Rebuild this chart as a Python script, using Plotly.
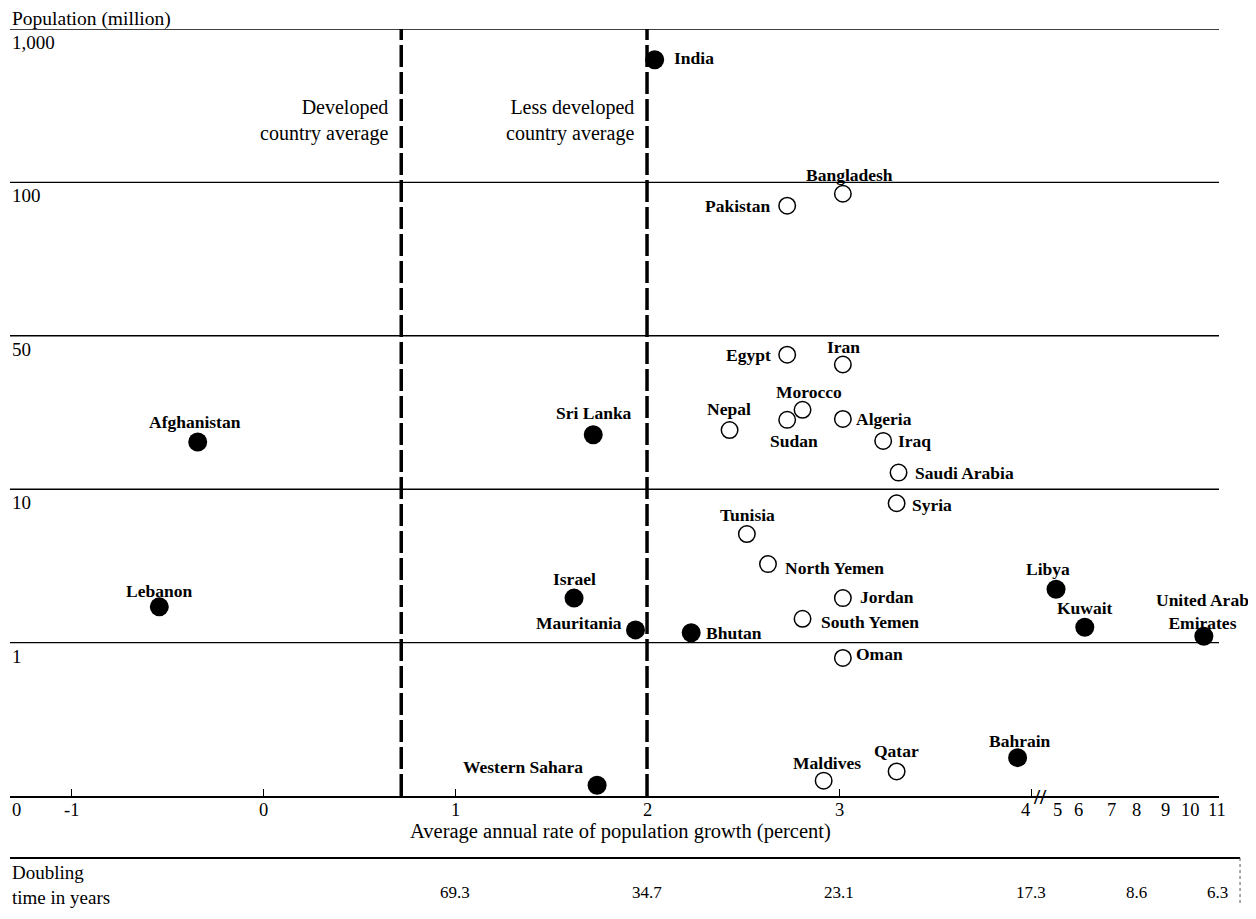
import numpy as np
import plotly.graph_objects as go

# ---------------- data ----------------
countries = ["India", "Bangladesh", "Pakistan", "Egypt", "Iran", "Morocco", "Nepal",
             "Sudan", "Algeria", "Iraq", "Saudi Arabia", "Syria", "Sri Lanka",
             "Afghanistan", "Tunisia", "North Yemen", "Libya", "Jordan", "South Yemen",
             "Israel", "Lebanon", "Mauritania", "Bhutan", "Kuwait", "United Arab Emirates",
             "Oman", "Bahrain", "Qatar", "Maldives", "Western Sahara"]
growth_rate = [2.04, 3.02, 2.73, 2.73, 3.02, 2.81, 2.43,
               2.73, 3.02, 3.23, 3.31, 3.30, 1.72,
               -0.34, 2.52, 2.63, 4.93, 3.02, 2.81,
               1.62, -0.54, 1.94, 2.23, 6.2, 10.5,
               3.02, 3.93, 3.30, 2.92, 1.74]
population = [630, 95, 90, 41, 37, 23, 18.6,
              20.7, 20.9, 16.6, 11.9, 8.1, 17.7,
              16.4, 5.1, 3.25, 2.23, 1.95, 1.43,
              1.95, 1.71, 1.21, 1.16, 1.26, 1.10,
              0.90, 0.25, 0.16, 0.10, 0.07]
filled = [True, False, False, False, False, False, False,
          False, False, False, False, False, True,
          True, False, False, True, False, False,
          True, True, True, True, True, True,
          False, True, False, False, True]

developed_avg = 0.72
less_developed_avg = 2.0

pop_ticks = [0, 1, 10, 50, 100, 1000]
pop_tick_text = ["0", "1", "10", "50", "100", "1,000"]
growth_ticks = [-1, 0, 1, 2, 3, 4, 5, 6, 7, 8, 9, 10, 11]
growth_tick_text = ["-1", "0", "1", "2", "3", "4", "5", "6", "7", "8", "9", "10", "11"]
# compressed scale beyond the axis break at 4 percent
break_rates = [4, 5, 6, 7, 8, 9, 10, 11]
break_units = [4.0, 4.14, 4.245, 4.42, 4.55, 4.70, 4.83, 4.97]
doubling_rates = [1, 2, 3, 4, 8, 11]
doubling_years = ["69.3", "34.7", "23.1", "17.3", "8.6", "6.3"]


# ---------------- scales ----------------
def ypos(values):
    out = []
    for v in np.atleast_1d(np.asarray(values, float)):
        if v <= 1:
            out.append(v)
            continue
        for k in range(1, len(pop_ticks) - 1):
            lo, hi = pop_ticks[k], pop_ticks[k + 1]
            if v <= hi or k == len(pop_ticks) - 2:
                out.append(k + np.log(v / lo) / np.log(hi / lo))
                break
    return np.array(out)


def xpos(values):
    r = np.atleast_1d(np.asarray(values, float))
    return np.where(r <= 4, r, np.interp(r, break_rates, break_units))


FONT = "Liberation Serif, Times New Roman, serif"

# label placement: (anchor, dx px, dy px; dy positive = down)
label_place = {
    "India": ("left", 17, -2), "Bangladesh": ("center", 7, -19), "Pakistan": ("right", -15, 0),
    "Egypt": ("right", -14, 0), "Iran": ("center", 1, -18), "Morocco": ("center", 6, -18),
    "Nepal": ("center", -1, -21), "Sudan": ("center", 7, 21), "Algeria": ("left", 11, 0),
    "Iraq": ("left", 13, 0), "Saudi Arabia": ("left", 14, 0), "Syria": ("left", 13, 2),
    "Sri Lanka": ("center", 1, -22), "Afghanistan": ("center", -3, -20),
    "Tunisia": ("center", 1, -19), "North Yemen": ("left", 15, 4), "Libya": ("center", -8, -20),
    "Jordan": ("left", 15, -1), "South Yemen": ("left", 16, 3), "Israel": ("center", 0, -19),
    "Lebanon": ("center", 0, -16), "Mauritania": ("right", -12, -7), "Bhutan": ("left", 13, 0),
    "Kuwait": ("center", 0, -19), "United Arab Emirates": ("center", -1, -25),
    "Oman": ("left", 11, -4), "Bahrain": ("center", 2, -17), "Qatar": ("center", 0, -20),
    "Maldives": ("center", 3, -18), "Western Sahara": ("right", -12, -18),
}

xs = xpos(growth_rate)
ys = ypos(population)
fill_idx = [i for i, f in enumerate(filled) if f]
open_idx = [i for i, f in enumerate(filled) if not f]

fig = go.Figure()

# average lines
for avg in (developed_avg, less_developed_avg):
    fig.add_trace(go.Scatter(
        x=xpos([avg, avg]), y=ypos([pop_ticks[0], pop_ticks[-1]]), mode="lines",
        line=dict(color="black", width=3.5, dash="22px,5px"), hoverinfo="skip",
        showlegend=False))

fig.add_trace(go.Scatter(
    x=xs[fill_idx], y=ys[fill_idx], mode="markers", cliponaxis=False,
    marker=dict(size=19, color="black", line=dict(width=0)),
    text=[countries[i] for i in fill_idx], showlegend=False))
fig.add_trace(go.Scatter(
    x=xs[open_idx], y=ys[open_idx], mode="markers", cliponaxis=False,
    marker=dict(size=16.5, color="white", line=dict(width=1.5, color="black")),
    text=[countries[i] for i in open_idx], showlegend=False))

annotations = []
for i, name in enumerate(countries):
    anchor, dx, dy = label_place[name]
    txt = "United Arab<br>Emirates" if name == "United Arab Emirates" else name
    annotations.append(dict(
        x=xs[i], y=ys[i], xref="x", yref="y", text=f"<b>{txt}</b>", showarrow=False,
        xanchor=anchor, yanchor="middle", xshift=dx, yshift=-dy, align="center",
        font=dict(family=FONT, size=17.5, color="black")))

# y labels (below each line, at the left)
for p, t in zip(pop_ticks[1:], pop_tick_text[1:]):
    annotations.append(dict(
        x=0, y=ypos(p)[0], xref="paper", yref="y", text=t, showarrow=False,
        xanchor="left", yanchor="top", yshift=-1,
        font=dict(family=FONT, size=19, color="black")))
annotations.append(dict(
    x=0, y=0, xref="paper", yref="paper", text=pop_tick_text[0], showarrow=False,
    xanchor="left", yanchor="top", yshift=-2, font=dict(family=FONT, size=18.5, color="black")))

# x labels
for r, t in zip(growth_ticks, growth_tick_text):
    annotations.append(dict(
        x=xpos(r)[0], y=0, xref="x", yref="paper", text=t, showarrow=False,
        xanchor="center", yanchor="top", yshift=-2, xshift=(-6 if r == 4 else 0),
        font=dict(family=FONT, size=18.5, color="black")))

# axis break mark
annotations.append(dict(
    x=(xpos(4)[0] + xpos(5)[0]) / 2, y=0, xref="x", yref="paper", text="<b>//</b>",
    showarrow=False, xanchor="center", yanchor="middle", xshift=-4, yshift=0,
    font=dict(family=FONT, size=22, color="black")))

# titles
annotations.append(dict(
    x=0, y=1, xref="paper", yref="paper", text="Population (million)", showarrow=False,
    xanchor="left", yanchor="bottom", yshift=-3, font=dict(family=FONT, size=19.5, color="black")))
annotations.append(dict(
    x=0.505, y=0, xref="paper", yref="paper",
    text="Average annual rate of population growth (percent)", showarrow=False,
    xanchor="center", yanchor="middle", yshift=-35,
    font=dict(family=FONT, size=20.5, color="black")))

annotations.append(dict(
    x=xpos(developed_avg)[0], y=0.881, xref="x", yref="paper",
    text="Developed<br>country average", showarrow=False, align="right",
    xanchor="right", yanchor="middle", xshift=-11,
    font=dict(family=FONT, size=20, color="black")))
annotations.append(dict(
    x=xpos(less_developed_avg)[0], y=0.881, xref="x", yref="paper",
    text="Less developed<br>country average", showarrow=False, align="right",
    xanchor="right", yanchor="middle", xshift=-11,
    font=dict(family=FONT, size=20, color="black")))

# doubling time row
row_y = -0.0808
annotations.append(dict(
    x=0, y=row_y, xref="paper", yref="paper", text="Doubling<br>time in years",
    showarrow=False, align="left", xanchor="left", yanchor="top", yshift=-2,
    font=dict(family=FONT, size=19, color="black")))
for r, t in zip(doubling_rates, doubling_years):
    annotations.append(dict(
        x=xpos(r)[0], y=row_y, xref="x", yref="paper", text=t, showarrow=False,
        xanchor="center", yanchor="middle", yshift=-35,
        font=dict(family=FONT, size=17, color="black")))

shapes = []
for p in pop_ticks[1:]:
    shapes.append(dict(type="line", xref="paper", x0=0, x1=1, yref="y",
                       y0=ypos(p)[0], y1=ypos(p)[0], layer="below",
                       line=dict(color="black", width=1.4)))
shapes.append(dict(type="line", xref="paper", x0=0, x1=1.0174, yref="paper",
                   y0=row_y, y1=row_y, line=dict(color="black", width=2)))
shapes.append(dict(type="line", xref="paper", x0=1.0174, x1=1.0174, yref="paper",
                   y0=row_y, y1=-0.142, line=dict(color="#555", width=1, dash="dot")))

# page body has an 8px margin: figure is 16px smaller and margins shifted by 8px
fig.update_layout(
    width=1240, height=903,
    margin=dict(l=2, r=29, t=21, b=115),
    paper_bgcolor="white", plot_bgcolor="white",
    showlegend=False,
    xaxis=dict(range=[-1.3177, 4.979], showgrid=False, zeroline=False,
               showline=True, linecolor="black", linewidth=2,
               ticks="inside", ticklen=7, tickwidth=1, tickcolor="black",
               tickvals=list(xpos([-1, 0, 1, 2, 3, 4])), showticklabels=False,
               fixedrange=True),
    yaxis=dict(range=[0, 5], showgrid=False, zeroline=False, showline=False,
               showticklabels=False, ticks="", fixedrange=True),
    annotations=annotations,
    shapes=shapes,
    font=dict(family=FONT, color="black"),
)

fig.write_html("out.html")
